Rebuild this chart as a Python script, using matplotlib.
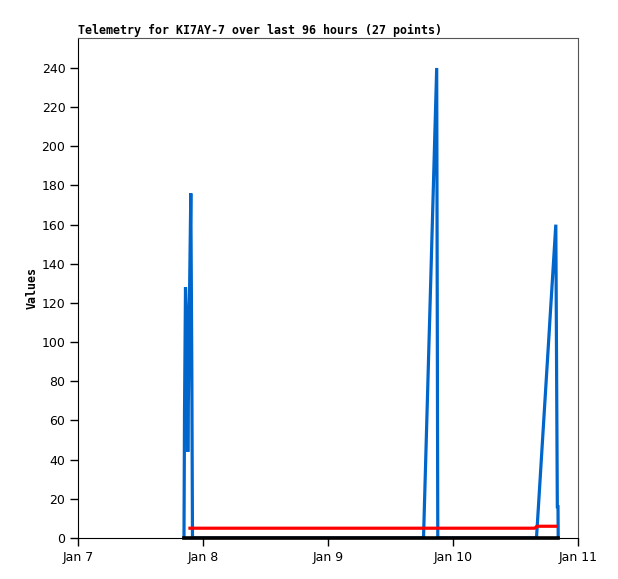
import matplotlib
matplotlib.use("Agg")
import matplotlib.pyplot as plt

# hours since Jan 7 00:00
blue_t = [20.35, 20.45, 20.64, 20.87, 21.08, 21.45, 21.66, 21.85, 21.98,
          66.34, 68.87, 69.08,
          88.03, 91.74, 92.03, 92.16, 92.2]
blue_v = [0, 64, 128, 112, 44, 132, 176, 88, 0,
          0, 240, 0,
          0, 160, 16, 16, 0]

red_t = [21.5, 21.98, 66.34, 69.08, 87.7, 88.1, 91.8]
red_v = [5, 5, 5, 5, 5, 6, 6]

black_t = [20.35, 92.2]
black_v = [0, 0]

xticks = [0, 24, 48, 72, 96]
xlabels = ["Jan 7", "Jan 8", "Jan 9", "Jan 10", "Jan 11"]
yticks = list(range(0, 241, 20))

fig = plt.figure(figsize=(6.18, 5.79), dpi=100)
ax = fig.add_axes([78/618, 1-538/579, 500/618, 500/579])

ax.plot(blue_t, blue_v, color="#0066cc", lw=2.3, solid_joinstyle="miter")
ax.plot(red_t, red_v, color="#ff0000", lw=2.3)
ax.plot(black_t, black_v, color="#000000", lw=2.6, clip_on=False, zorder=5)

ax.set_xlim(0, 96)
ax.set_ylim(0, 255.3)
ax.set_xticks(xticks)
ax.set_xticklabels(xlabels)
ax.set_yticks(yticks)
ax.tick_params(direction="out", length=6, width=1, labelsize=9, pad=3)
for s in ["left", "bottom"]:
    ax.spines[s].set_color("black")
for s in ["top", "right"]:
    ax.spines[s].set_color("#555555")

ax.set_ylabel("Values", family="DejaVu Sans Mono", fontweight="bold", fontsize=8.4, labelpad=2)
ax.set_title("Telemetry for KI7AY-7 over last 96 hours (27 points)", loc="left",
             family="DejaVu Sans Mono", fontweight="bold", fontsize=8.4, pad=3)

fig.savefig("out.png", dpi=100)
